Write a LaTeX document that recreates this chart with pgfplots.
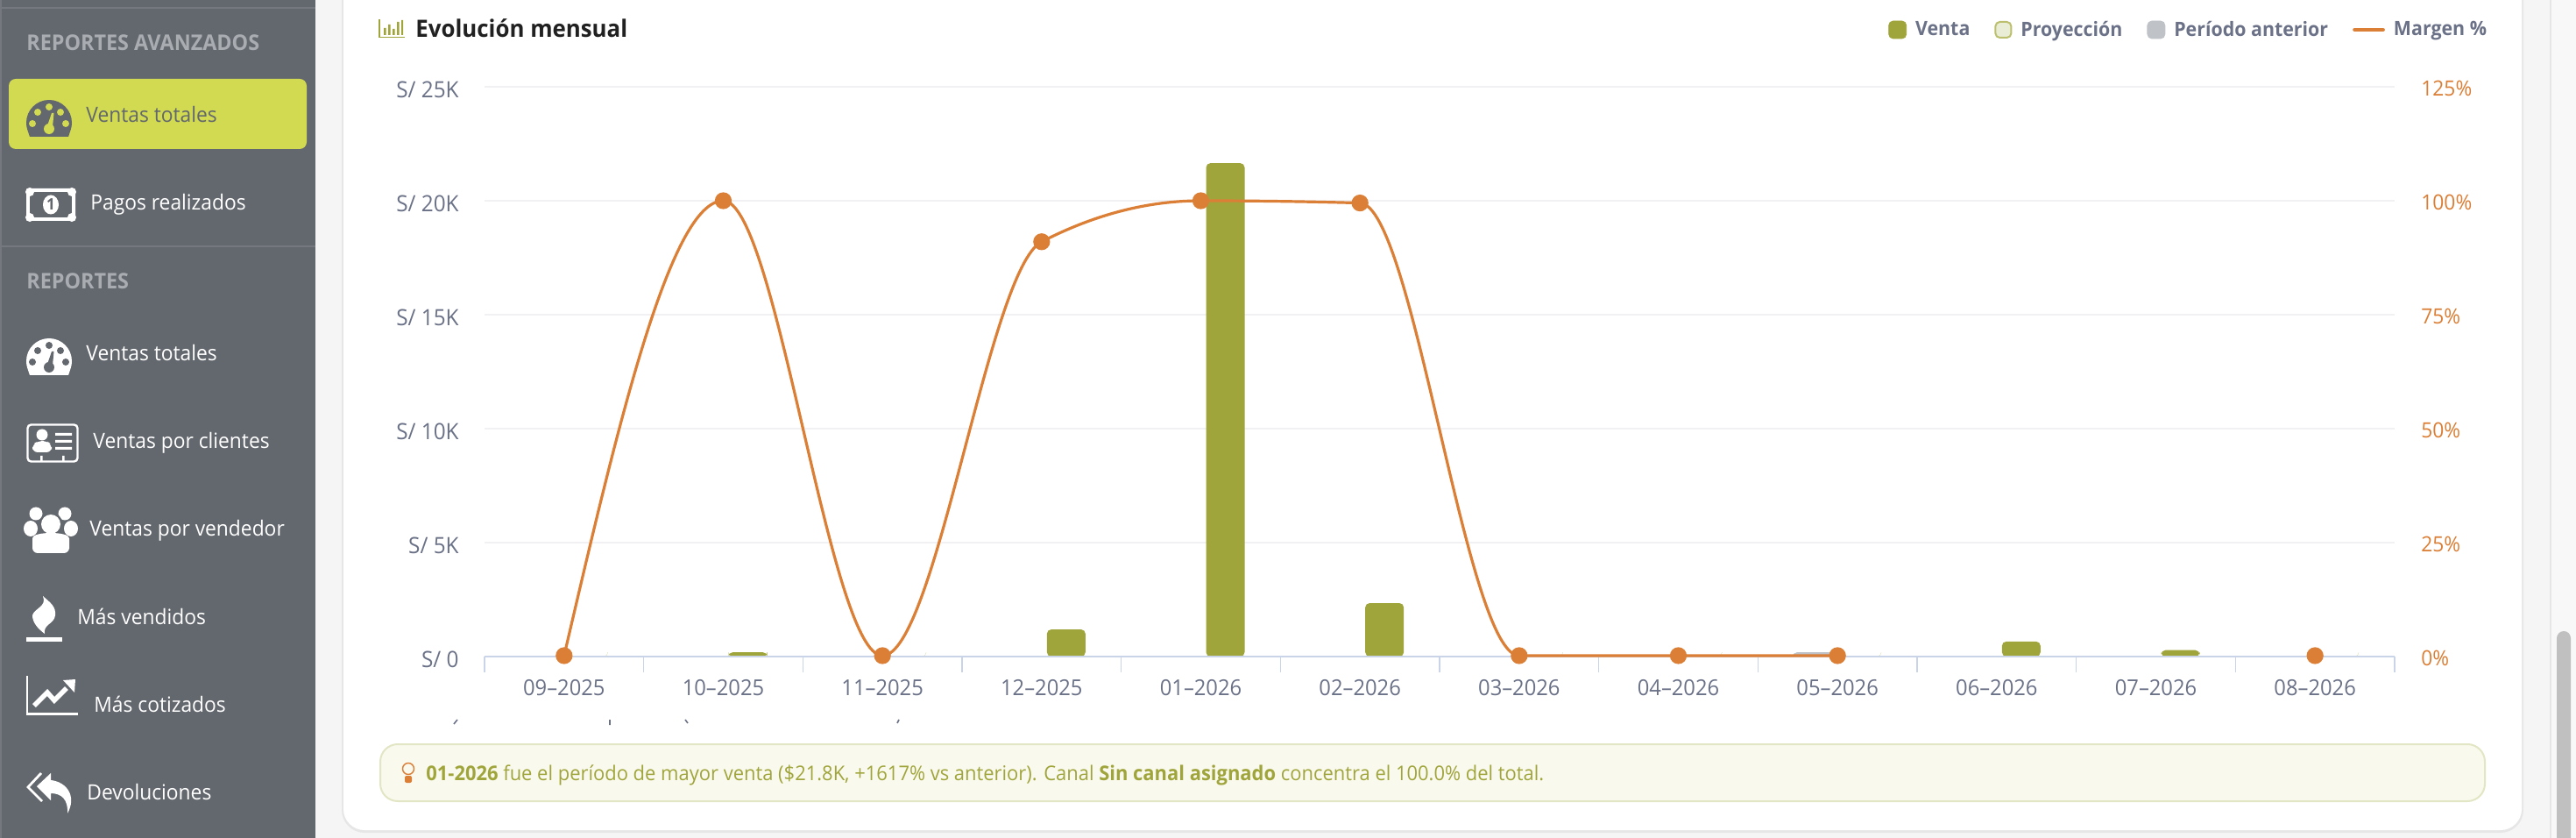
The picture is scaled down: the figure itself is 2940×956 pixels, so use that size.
\documentclass[border=0pt]{standalone}
\usepackage{pgfplots}
\pgfplotsset{compat=1.18}
\usepackage{fontspec}
\setmainfont[FakeStretch=0.95]{Open Sans}
\usetikzlibrary{calc}
\definecolor{side}{HTML}{63676E}
\definecolor{sideline}{HTML}{75797F}
\definecolor{sidehead}{HTML}{A9ADB2}
\definecolor{hilite}{HTML}{D1DA50}
\definecolor{pagebg}{HTML}{F5F5F5}
\definecolor{olive}{HTML}{A0A53B}
\definecolor{oliveedge}{HTML}{BCC06E}
\definecolor{olivefill}{HTML}{E9EDD6}
\definecolor{greybar}{HTML}{BFC3C8}
\definecolor{orange}{HTML}{DB7F36}
\definecolor{tick}{HTML}{6B7288}
\definecolor{axisl}{HTML}{CAD4E8}
\definecolor{gridc}{HTML}{F1F1F3}
\definecolor{alertbg}{HTML}{F9F9EE}
\definecolor{alertbd}{HTML}{E3E6C4}
\definecolor{trackbg}{HTML}{F8F8F8}
\definecolor{trackln}{HTML}{E6E6E6}
\definecolor{thumb}{HTML}{C0C0C0}

% monotone cubic curve through the plotted points (same as the chart's line)
\makeatletter
\newcount\mono@n \newcount\mono@i \newcount\mono@j \newcount\mono@k
\def\mono@start{\global\mono@n=0\relax}
\def\mono@point#1{\pgf@process{#1}\global\advance\mono@n by1\relax
  \expandafter\xdef\csname mono@x\the\mono@n\endcsname{\pgf@sys@tonumber\pgf@x}%
  \expandafter\xdef\csname mono@y\the\mono@n\endcsname{\pgf@sys@tonumber\pgf@y}}
\def\mono@get#1#2{\csname mono@#1\the#2\endcsname}
\def\mono@flush{%
  \ifnum\mono@n>0\relax
    \pgfpathmoveto{\pgfqpoint{\csname mono@x1\endcsname pt}{\csname mono@y1\endcsname pt}}%
  \fi
  \ifnum\mono@n>1\relax
    % slopes
    \mono@i=1\relax
    \loop\ifnum\mono@i<\mono@n\relax
      \mono@j=\mono@i\advance\mono@j by1\relax
      \pgfmathsetmacro\mono@h{\mono@get{x}\mono@j-\mono@get{x}\mono@i}%
      \pgfmathsetmacro\mono@s{(\mono@get{y}\mono@j-\mono@get{y}\mono@i)/\mono@h}%
      \expandafter\xdef\csname mono@h\the\mono@i\endcsname{\mono@h}%
      \expandafter\xdef\csname mono@s\the\mono@i\endcsname{\mono@s}%
      \advance\mono@i by1\relax
    \repeat
    % interior tangents
    \mono@i=2\relax
    \loop\ifnum\mono@i<\mono@n\relax
      \mono@j=\mono@i\advance\mono@j by-1\relax
      \pgfmathsetmacro\mono@t{(sign(\mono@get{s}\mono@j)+sign(\mono@get{s}\mono@i))*min(abs(\mono@get{s}\mono@j),abs(\mono@get{s}\mono@i),0.5*abs((\mono@get{s}\mono@j*\mono@get{h}\mono@i+\mono@get{s}\mono@i*\mono@get{h}\mono@j)/(\mono@get{h}\mono@j+\mono@get{h}\mono@i)))}%
      \expandafter\xdef\csname mono@t\the\mono@i\endcsname{\mono@t}%
      \advance\mono@i by1\relax
    \repeat
    % end tangents
    \ifnum\mono@n=2\relax
      \expandafter\xdef\csname mono@t1\endcsname{\csname mono@s1\endcsname}%
      \expandafter\xdef\csname mono@t2\endcsname{\csname mono@s1\endcsname}%
    \else
      \pgfmathsetmacro\mono@t{(3*\csname mono@s1\endcsname-\csname mono@t2\endcsname)/2}%
      \expandafter\xdef\csname mono@t1\endcsname{\mono@t}%
      \mono@j=\mono@n\advance\mono@j by-1\relax
      \pgfmathsetmacro\mono@t{(3*\mono@get{s}\mono@j-\mono@get{t}\mono@j)/2}%
      \expandafter\xdef\csname mono@t\the\mono@n\endcsname{\mono@t}%
    \fi
    % segments
    \mono@i=1\relax
    \loop\ifnum\mono@i<\mono@n\relax
      \mono@j=\mono@i\advance\mono@j by1\relax
      \pgfmathsetmacro\mono@ax{\mono@get{x}\mono@i+\mono@get{h}\mono@i/3}%
      \pgfmathsetmacro\mono@ay{\mono@get{y}\mono@i+\mono@get{t}\mono@i*\mono@get{h}\mono@i/3}%
      \pgfmathsetmacro\mono@bx{\mono@get{x}\mono@j-\mono@get{h}\mono@i/3}%
      \pgfmathsetmacro\mono@by{\mono@get{y}\mono@j-\mono@get{t}\mono@j*\mono@get{h}\mono@i/3}%
      \pgfpathcurveto{\pgfqpoint{\mono@ax pt}{\mono@ay pt}}{\pgfqpoint{\mono@bx pt}{\mono@by pt}}{\pgfqpoint{\mono@get{x}\mono@j pt}{\mono@get{y}\mono@j pt}}%
      \advance\mono@i by1\relax
    \repeat
  \fi
  \global\mono@n=0\relax}
\pgfdeclareplothandler{\pgfplothandlermono}{}{
  start=\mono@start,
  point macro=\mono@point,
  jump=\mono@flush,
  end macro=\mono@flush,
}
\tikzset{monotone plot/.code={\def\tikz@plot@handler{\pgfplothandlermono}}}
\makeatother

\newcommand{\gauge}[4]{% x, y (dome centre), fg, bg
  \begin{scope}[shift={(#1,#2)}]
    \fill[#3] (-22,15) .. controls (-24,9) and (-26,5) .. (-26,-1)
      arc[start angle=180,end angle=360,radius=26]
      .. controls (26,5) and (24,9) .. (22,15) -- cycle;
    \fill[#4] (-13,-13) circle (4) (0,-19) circle (4) (13,-13) circle (4) (-19,0) circle (4) (19,0) circle (4);
    \fill[#4] (0,6) circle (6);
    \fill[#4] (-2.5,4) -- (3,-12) -- (5.5,-12) -- (4,4) -- cycle;
  \end{scope}}
\newcommand{\sidelabel}[4][white]{\node[anchor=base west,inner sep=0pt,text=#1,font=\fontsize{12}{14}\selectfont] at (#2,#3) {#4};}

\begin{document}
\begin{tikzpicture}[x=0.5pt,y=-0.5pt]
\path[use as bounding box] (0,0) rectangle (2940,956);
\coordinate (O) at (553,749);
% page
\fill[pagebg] (0,0) rectangle (2940,956);
\fill[side] (0,0) rectangle (360,956);
\fill[sideline] (0,0) rectangle (2,956);
\fill[sideline] (0,8) rectangle (360,10);
\fill[sideline] (0,280) rectangle (360,282);
% scrollbar
\fill[trackbg] (2911,0) rectangle (2940,956);
\fill[trackln] (2910,0) rectangle (2912,956);
\begin{scope}
\clip (2900,0) rectangle (2940,956);
\fill[thumb, rounded corners=4pt] (2918,720) rectangle (2934,990);
\end{scope}
% card
\begin{scope}
\clip (380,0) rectangle (2890,956);
\fill[trackln, rounded corners=13pt] (390,-40) rectangle (2880,950);
\fill[white, rounded corners=12pt] (392,-40) rectangle (2878,947);
\end{scope}
% sidebar text and icons
\fill[hilite, rounded corners=4pt] (10,90) rectangle (350,170);
\node[anchor=base west,inner sep=0pt,text=sidehead,font=\bfseries\fontsize{12.3}{14}\selectfont] at (30,58) {REPORTES AVANZADOS};
\node[anchor=base west,inner sep=0pt,text=sidehead,font=\bfseries\fontsize{12.3}{14}\selectfont] at (30,330) {REPORTES};
\gauge{56}{141}{side}{hilite}
\sidelabel[side]{98}{140}{Ventas totales}
\fill[white, rounded corners=1pt] (30,215) rectangle (86,252);
\fill[side] (34,219) rectangle (82,248);
\fill[white] (34,219) circle (5) (82,219) circle (5) (34,248) circle (5) (82,248) circle (5);
\fill[white] (58,233.5) ellipse [x radius=9, y radius=11];
\node[text=side,inner sep=0pt,font=\bfseries\fontsize{9}{9}\selectfont] at (58,233.5) {1};
\sidelabel{103}{240}{Pagos realizados}
\gauge{56}{413}{white}{side}
\sidelabel{98}{412}{Ventas totales}
% clients
\draw[white,line width=1.2pt,rounded corners=2pt] (31.5,484.5) rectangle (88.5,526.5);
\fill[white] (48,496) circle (6.5);
\fill[white,rounded corners=3pt] (37,516) -- (37,507) -- (44,503) -- (53,503) -- (59,507) -- (59,516) -- cycle;
\fill[white] (63,494) rectangle (82,497) (63,502) rectangle (82,505) (63,510) rectangle (82,513);
\fill[white] (46,520) rectangle (48.5,526) (71,520) rectangle (73.5,526);
\sidelabel{106}{512}{Ventas por clientes}
% people
\fill[white] (41,586) circle (7.5) (74,586) circle (7.5);
\fill[white] (35,603) ellipse [x radius=8, y radius=9];
\fill[white] (81,603) ellipse [x radius=8, y radius=9];
\fill[side] (58,598) circle (13.5);
\fill[side] (36,631) -- (36,616) .. controls (36,605) and (80,605) .. (80,616) -- (80,631) -- cycle;
\fill[white] (58,598) circle (11);
\fill[white,rounded corners=3pt] (37,631) -- (37,620) .. controls (37,606) and (79,606) .. (79,620) -- (79,631) -- cycle;
\sidelabel{102}{612}{Ventas por vendedor}
% flame
\fill[white] (49,680) .. controls (58,688) and (64,692) .. (63,702) .. controls (62,712) and (49,712) .. (51,723)
  .. controls (43,717) and (37,710) .. (37,702) .. controls (39,694) and (54,692) .. (49,680) -- cycle;
\fill[white] (30,727) rectangle (71,732);
\sidelabel{88}{712}{Más vendidos}
% chart icon
\draw[white,line width=1.2pt] (31,771) -- (31,814.5) -- (89,814.5);
\draw[white,line width=2.8pt] (39,805) -- (54,790) -- (62,799) -- (76,785);
\fill[white] (72,776) -- (86,775) -- (85,790) -- cycle;
\sidelabel{107}{812}{Más cotizados}
% return icon
\draw[white,line width=1.4pt] (47,882) -- (32,898) -- (48,914);
\fill[white] (42,897) -- (58,882) -- (58,890) .. controls (76,892) and (88,908) .. (77,928) .. controls (78,912) and (70,905) .. (58,905) -- (58,913) -- cycle;
\sidelabel{99}{912}{Devoluciones}
% chart header
\draw[olive,line width=0.8pt] (433,22) -- (433,42.5) -- (462,42.5);
\fill[olive] (438,32) rectangle (440.5,40) (443,28) rectangle (445.5,40) (448,33) rectangle (450.5,40) (453,25) rectangle (455.5,40) (458,23) rectangle (460,40);
\node[anchor=base west,inner sep=0pt,text=black!87,font=\bfseries\fontsize{13.6}{16}\selectfont] at (474,43) {Evolución mensual};
% clipped text under the axis
\draw[tick,line width=0.8pt] (518,826) -- (522,821) (696,821) -- (696,827) (782,821) -- (785,825) (1026,821) -- (1024,825);
% alert
\draw[alertbd,fill=alertbg,line width=1pt,rounded corners=10pt] (434,849) rectangle (2836,914);
\draw[orange,line width=0.7pt] (466,877) circle (6.5);
\fill[orange,rounded corners=1pt] (462,885) rectangle (470,893);
\node[anchor=base west,inner sep=0pt,text=olive,font=\fontsize{11.55}{14}\selectfont] at (486,890) {\textbf{01-2026} fue el período de mayor venta (\$21.8K, +1617\% vs anterior). Canal \textbf{Sin canal asignado} concentra el 100.0\% del total.};

% bars: left axis
\begin{axis}[
  at={(O)}, anchor=south west,
  scale only axis, width=1090pt, height=325pt,
  xmin=-0.5, xmax=11.5, ymin=0, ymax=25000,
  scaled y ticks=false,
  xtick=\empty,
  axis x line*=bottom, axis y line*=left,
  x axis line style={draw=none,-},
  y axis line style={draw=none,-},
  ytick={0,5000,10000,15000,20000,25000},
  yticklabels={S/ 0,S/ 5K,S/ 10K,S/ 15K,S/ 20K,S/ 25K},
  y tick style={draw=none},
  ymajorgrids, grid style={gridc,line width=1pt},
  yticklabel style={text=tick,font=\fontsize{12.8}{14}\selectfont,inner sep=0pt,anchor=east,xshift=-14.5pt,yshift=-1.5pt},
  clip=false,
]
\addplot[ybar,bar width=22pt,bar shift=14pt,fill=olive,draw=none,rounded corners=2.5pt] coordinates {
 (0,0) (1,190) (2,0) (3,1190) (4,21650) (5,2345) (6,0) (7,0) (8,0) (9,660) (10,280) (11,0)};
\addplot[ybar,bar width=22pt,bar shift=-14pt,fill=greybar,draw=none,rounded corners=2pt] coordinates {
 (8,190)};
\end{axis}

% margin: right axis
\begin{axis}[
  at={(O)}, anchor=south west,
  scale only axis, width=1090pt, height=325pt,
  xmin=-0.5, xmax=11.5, ymin=0, ymax=125,
  axis x line*=bottom, axis y line*=right,
  x axis line style={axisl,line width=1pt,-},
  y axis line style={draw=none,-},
  xtick={-0.5,0.5,...,11.5},
  x tick label as interval,
  xticklabels={09–2025,10–2025,11–2025,12–2025,01–2026,02–2026,03–2026,04–2026,05–2026,06–2026,07–2026,08–2026},
  x tick style={axisl,line width=0.8pt},
  major tick length=9pt, tick align=outside,
  xticklabel style={text=tick,font=\fontsize{12.5}{14}\selectfont,inner sep=0pt,yshift=-4pt},
  ytick={0,25,50,75,100,125},
  yticklabels={0\%,25\%,50\%,75\%,100\%,125\%},
  y tick style={draw=none},
  yticklabel style={text=orange,font=\fontsize{12}{14}\selectfont,inner sep=0pt,anchor=west,xshift=6pt,yshift=-1pt},
  clip=false,
  unbounded coords=jump,
  legend columns=4,
  legend cell align=left,
  legend style={at={(1.0482,1.1)},anchor=east,draw=none,fill=none,inner sep=0pt,outer sep=0pt,
    font=\bfseries\fontsize{11.25}{14}\selectfont,text=tick,
    nodes={inner sep=0pt},
    /tikz/every odd column/.append style={column sep=5pt},
    /tikz/every even column/.append style={column sep=14pt}},
]
\addlegendimage{legend image code/.code={\fill[olive,rounded corners=2.5pt] (0pt,-5pt) rectangle (10pt,5pt);}}
\addlegendentry{Venta}
\addlegendimage{legend image code/.code={\draw[oliveedge,fill=olivefill,line width=1pt,rounded corners=2.5pt] (0.5pt,-4.5pt) rectangle (9.5pt,4.5pt);}}
\addlegendentry{Proyección}
\addlegendimage{legend image code/.code={\fill[greybar,rounded corners=2.5pt] (0pt,-5pt) rectangle (10pt,5pt);}}
\addlegendentry{Período anterior}
\addplot[orange,line width=1.6pt,monotone plot,mark=*,mark size=4pt,mark options={fill=orange,draw=none,solid},
  legend image code/.code={\draw[orange,line width=2.4pt,line cap=round] (1pt,0pt) -- (17pt,0pt);}] coordinates {
 (0,0.2) (1,100) (2,0.2) (3,91) (4,100) (5,99.5) (6,0.2) (7,0.2) (8,0.2) (9,nan) (10,nan) (11,0.2)};
\addlegendentry{Margen \%}
\end{axis}
\end{tikzpicture}
\end{document}
